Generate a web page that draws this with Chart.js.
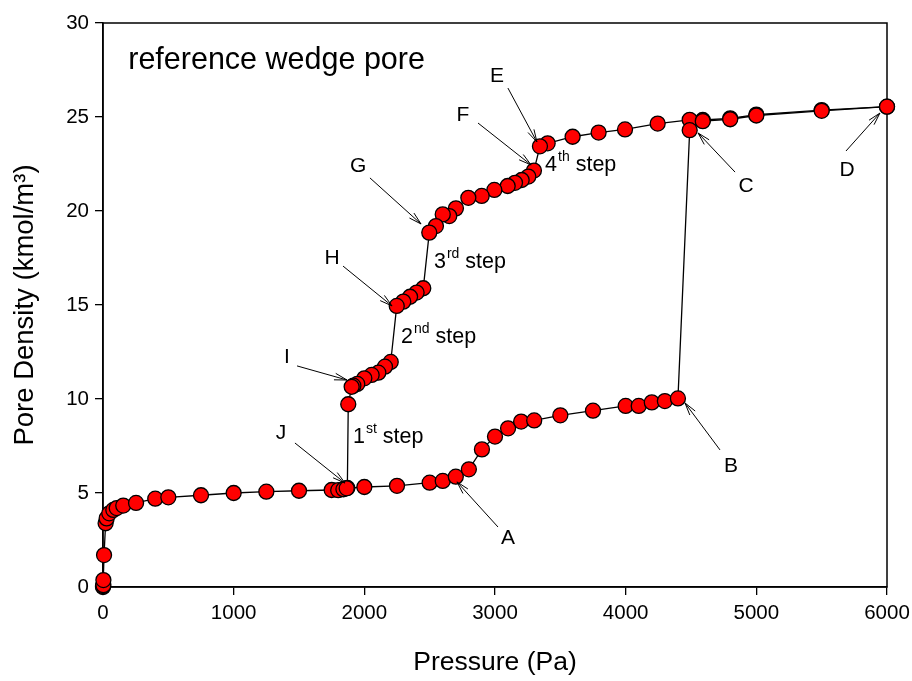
<!DOCTYPE html>
<html>
<head>
<meta charset="utf-8">
<script src="https://cdn.jsdelivr.net/npm/chart.js@4.4.1/dist/chart.umd.min.js"></script>
<style>
html,body{margin:0;padding:0;background:#fff}
#wrap{width:912px;height:681px;position:relative}
</style>
</head>
<body>
<div id="wrap"><canvas id="c"></canvas></div>
<script>
// adsorption branch (lower curve, then jump at ~4500 Pa)
const adsP = [0, 0, 3, 3, 8, 20, 28, 48, 79, 105, 155, 253, 400, 500, 750, 1000, 1250, 1500, 1750, 1800, 1840, 1865,
  2000, 2250, 2500, 2600, 2700, 2800, 2900, 3000, 3100, 3200, 3300, 3500, 3750, 4000, 4100, 4200, 4300, 4400,
  4490, 4590, 4800, 5000, 5500, 6000];
const adsD = [0, 0.05, 0.1, 0.37, 1.7, 3.39, 3.65, 3.92, 4.1, 4.2, 4.33, 4.47, 4.7, 4.77, 4.88, 5.0, 5.07, 5.12, 5.16, 5.15, 5.2, 5.25,
  5.32, 5.38, 5.55, 5.64, 5.87, 6.26, 7.32, 8.0, 8.44, 8.8, 8.86, 9.13, 9.38, 9.63, 9.63, 9.82, 9.89, 10.03,
  24.3, 24.78, 24.88, 25.08, 25.33, 25.55];

// desorption branch (upper curve, stepping down)
const desP = [6000, 5500, 5000, 4800, 4590, 4490, 4245, 3995, 3793, 3594, 3403, 3344,
  3298, 3255, 3204, 3153, 3097, 2995, 2898, 2796, 2701, 2650, 2600, 2548, 2497,
  2451, 2400, 2350, 2298, 2248,
  2202, 2158, 2107, 2056, 2000, 1946, 1916, 1903, 1877, 1870];
const desD = [25.55, 25.37, 25.13, 24.93, 24.84, 24.85, 24.65, 24.34, 24.17, 23.95, 23.6, 23.44,
  22.15, 21.83, 21.65, 21.5, 21.33, 21.12, 20.8, 20.7, 20.14, 19.73, 19.82, 19.2, 18.85,
  15.89, 15.66, 15.44, 15.18, 14.95,
  11.97, 11.72, 11.4, 11.28, 11.1, 10.8, 10.71, 10.65, 9.72, 5.27];

const xTicks = [0, 1000, 2000, 3000, 4000, 5000, 6000];
const yTicks = [0, 5, 10, 15, 20, 25, 30];

// letter callouts, in data units
const calloutText = ['E', 'F', 'G', 'H', 'I', 'J', 'A', 'B', 'C', 'D'];
const calloutLabel = [[3015,27.18],[2755,25.11],[1952,22.39],[1753,17.5],[1408,12.23],[1362,8.19],[3099,2.61],[4806,6.44],[4921,21.33],[5694,22.18]];
const calloutTail = [[3099,26.54],[2870,24.68],[2043,21.76],[1837,17.07],[1485,11.76],[1469,7.66],[3023,3.19],[4722,7.29],[4837,22.07],[5686,23.19]];
const calloutTip = [[3321,23.67],[3276,22.45],[2434,19.31],[2212,14.95],[1867,11.01],[1852,5.53],[2709,5.59],[4454,9.79],[4554,24.15],[5946,25.21]];

const stepNum = ['1', '2', '3', '4'];
const stepSup = ['st', 'nd', 'rd', 'th'];
const stepAt = [[1913,7.95],[2281,13.3],[2533,17.29],[3383,22.45]];

const titleText = 'reference wedge pore';
const titleAt = [193, 27.98];

const FONT = '"Liberation Sans", Arial, sans-serif';

function xy(P, D){ return P.map((p,i)=>({x:p, y:D[i]})); }

const frame = {
  id:'frame',
  beforeDatasetsDraw(chart){
    const {ctx, chartArea:a} = chart;
    ctx.save();
    ctx.strokeStyle='#000'; ctx.lineWidth=1.5;
    ctx.strokeRect(a.left, a.top, a.right-a.left, a.bottom-a.top);
    ctx.restore();
  }
};

function arrow(ctx, x1, y1, x2, y2){
  ctx.beginPath(); ctx.moveTo(x1,y1); ctx.lineTo(x2,y2); ctx.stroke();
  const ang = Math.atan2(y2-y1, x2-x1), len=13, spread=0.26;
  ctx.beginPath();
  ctx.moveTo(x2 - len*Math.cos(ang-spread), y2 - len*Math.sin(ang-spread));
  ctx.lineTo(x2, y2);
  ctx.lineTo(x2 - len*Math.cos(ang+spread), y2 - len*Math.sin(ang+spread));
  ctx.stroke();
}

const notes = {
  id:'notes',
  afterDatasetsDraw(chart){
    const {ctx} = chart, xs=chart.scales.x, ys=chart.scales.y;
    const px=v=>xs.getPixelForValue(v), py=v=>ys.getPixelForValue(v);
    ctx.save();
    ctx.fillStyle='#000'; ctx.strokeStyle='#000'; ctx.lineWidth=1;
    ctx.textBaseline='middle';

    ctx.font='30.5px '+FONT; ctx.textAlign='left';
    ctx.fillText(titleText, px(titleAt[0]), py(titleAt[1]));

    ctx.font='21px '+FONT; ctx.textAlign='center';
    calloutText.forEach((t,i)=>{
      ctx.fillText(t, px(calloutLabel[i][0]), py(calloutLabel[i][1]));
      arrow(ctx, px(calloutTail[i][0]), py(calloutTail[i][1]), px(calloutTip[i][0]), py(calloutTip[i][1]));
    });

    ctx.textAlign='left';
    stepAt.forEach((s,i)=>{
      let x=px(s[0]); const y=py(s[1]);
      ctx.font='21.5px '+FONT; ctx.fillText(stepNum[i], x, y); x+=ctx.measureText(stepNum[i]).width+1;
      ctx.font='14px '+FONT; ctx.fillText(stepSup[i], x, y-8); x+=ctx.measureText(stepSup[i]).width;
      ctx.font='21.5px '+FONT; ctx.fillText(' step', x, y);
    });
    ctx.restore();
  }
};

const lineStyle = {showLine:true, pointRadius:0, borderColor:'#000', borderWidth:1.3, clip:false, order:3};
const dotStyle = {showLine:false, pointRadius:7.5, pointHoverRadius:7.5, pointBackgroundColor:'#ff0000', pointBorderColor:'#000', pointBorderWidth:1.3, clip:false, order:1};

new Chart(document.getElementById('c'), {
  type:'scatter',
  data:{datasets:[
    Object.assign({label:'adsorption line', data:xy(adsP, adsD)}, lineStyle),
    Object.assign({label:'desorption line', data:xy(desP, desD)}, lineStyle),
    Object.assign({label:'adsorption', data:xy(adsP, adsD)}, dotStyle),
    Object.assign({label:'desorption', data:xy(desP, desD)}, dotStyle)
  ]},
  options:{
    responsive:true, maintainAspectRatio:false, animation:false,
    layout:{padding:{top:23, right:25, left:0, bottom:0}},
    plugins:{legend:{display:false}, tooltip:{enabled:false}},
    scales:{
      x:{
        type:'linear', min:0, max:6000,
        afterBuildTicks:s=>{ s.ticks = xTicks.map(v=>({value:v})); },
        afterFit:s=>{ s.height = 94; s.paddingLeft = 0; s.paddingRight = 0; },
        grid:{display:true, drawOnChartArea:false, drawTicks:true, tickLength:8, color:'#000', lineWidth:1.3},
        border:{display:true, color:'#000', width:1.5},
        ticks:{color:'#000', font:{family:FONT, size:20.5}, padding:6, maxRotation:0, callback:v=>String(v)},
        title:{display:true, text:'Pressure (Pa)', color:'#000', font:{family:FONT, size:26.5}, padding:{top:0, bottom:2}}
      },
      y:{
        type:'linear', min:0, max:30,
        afterBuildTicks:s=>{ s.ticks = yTicks.map(v=>({value:v})); },
        afterFit:s=>{ s.width = 103; s.paddingTop = 0; s.paddingBottom = 0; },
        grid:{display:true, drawOnChartArea:false, drawTicks:true, tickLength:8, color:'#000', lineWidth:1.3},
        border:{display:true, color:'#000', width:1.5},
        ticks:{color:'#000', font:{family:FONT, size:20.5}, padding:6, callback:v=>String(v)},
        title:{display:true, text:'Pore Density (kmol/m³)', color:'#000', font:{family:FONT, size:27.5}, padding:{top:9, bottom:0}}
      }
    }
  },
  plugins:[frame, notes]
});
</script>
</body>
</html>
